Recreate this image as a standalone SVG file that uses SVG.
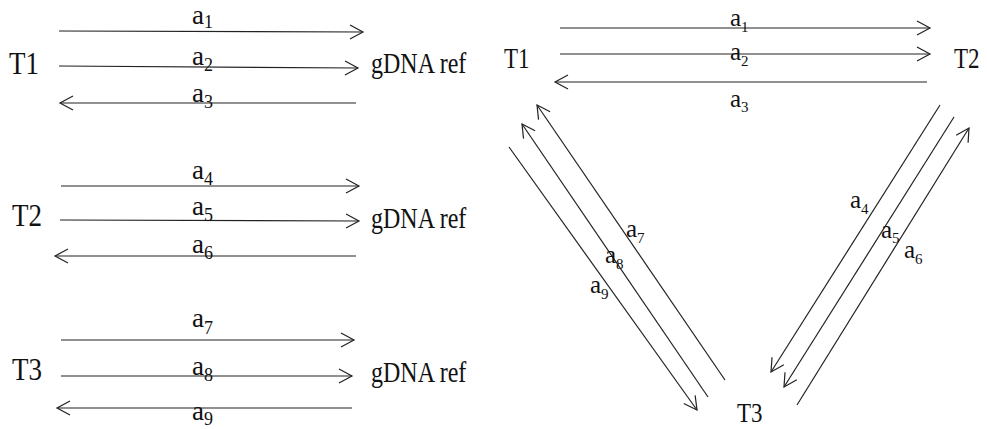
<svg xmlns="http://www.w3.org/2000/svg" width="987" height="429" viewBox="0 0 987 429">
<style>
  text { font-family: "Liberation Serif", "Times New Roman", serif; fill: #111; }
  .tl { font-size: 27px; }
  .tr { font-size: 23px; }
  .ref { font-size: 24px; }
  .al { font-size: 27px; }
  .ar { font-size: 25px; }
  .sl { font-size: 18px; }
  .sr { font-size: 15px; }
  .c line { stroke: #222; stroke-width: 1.2; fill: none; marker-end: url(#ah); }
</style>
<defs>
  <marker id="ah" markerUnits="userSpaceOnUse" markerWidth="16" markerHeight="16" refX="13" refY="7" orient="auto" overflow="visible">
    <path d="M0,0 L13,7 L0,14" fill="none" stroke="#222" stroke-width="1.2"/>
  </marker>
</defs>
<rect width="987" height="429" fill="#fff"/>

<!-- Left panel nodes -->
<g id="L-T1"><text class="tl" transform="translate(9,74) scale(1,1.2)">T1</text></g>
<g id="L-T2"><text class="tl" transform="translate(12,226) scale(1,1.2)">T2</text></g>
<g id="L-T3"><text class="tl" transform="translate(12,380) scale(1,1.2)">T3</text></g>
<g id="L-ref1"><text class="ref" transform="translate(371,73) scale(1,1.2)">gDNA ref</text></g>
<g id="L-ref2"><text class="ref" transform="translate(371,228) scale(1,1.2)">gDNA ref</text></g>
<g id="L-ref3"><text class="ref" transform="translate(371,382) scale(1,1.2)">gDNA ref</text></g>

<!-- Right panel nodes -->
<g id="R-T1"><text class="tr" transform="translate(504,68) scale(1,1.25)">T1</text></g>
<g id="R-T2"><text class="tr" transform="translate(954,68) scale(1,1.25)">T2</text></g>
<g id="R-T3"><text class="tr" transform="translate(737,422) scale(1,1.2)">T3</text></g>

<!-- Connectors -->
<g id="connectors" class="c">
  <line x1="59" y1="31" x2="363" y2="32"/>
  <line x1="59" y1="66" x2="358" y2="68"/>
  <line x1="356" y1="103" x2="60" y2="103"/>
  <line x1="61" y1="186" x2="359" y2="186"/>
  <line x1="60" y1="220" x2="359" y2="221"/>
  <line x1="356" y1="256" x2="55" y2="256"/>
  <line x1="61" y1="340" x2="354" y2="340"/>
  <line x1="61" y1="376" x2="352" y2="376"/>
  <line x1="352" y1="408" x2="57" y2="408"/>

  <line x1="560" y1="28" x2="930" y2="28"/>
  <line x1="560" y1="54" x2="930" y2="54"/>
  <line x1="927" y1="82" x2="555" y2="82"/>

  <line x1="940" y1="105" x2="771" y2="372"/>
  <line x1="954" y1="117" x2="784" y2="387"/>
  <line x1="797" y1="405" x2="969" y2="128"/>

  <line x1="725" y1="380" x2="537" y2="105"/>
  <line x1="708" y1="397" x2="522" y2="124"/>
  <line x1="509" y1="147" x2="697" y2="410"/>
</g>

<!-- Connector labels -->
<g id="labels">
  <text class="al" x="192" y="24">a<tspan class="sl" dy="4">1</tspan></text>
  <text class="al" x="192" y="65">a<tspan class="sl" dy="6">2</tspan></text>
  <text class="al" x="192" y="102">a<tspan class="sl" dy="6">3</tspan></text>
  <text class="al" x="192" y="179">a<tspan class="sl" dy="6">4</tspan></text>
  <text class="al" x="192" y="215">a<tspan class="sl" dy="6">5</tspan></text>
  <text class="al" x="192" y="253">a<tspan class="sl" dy="6">6</tspan></text>
  <text class="al" x="192" y="327">a<tspan class="sl" dy="7">7</tspan></text>
  <text class="al" x="192" y="375">a<tspan class="sl" dy="6">8</tspan></text>
  <text class="al" x="192" y="420">a<tspan class="sl" dy="5">9</tspan></text>

  <text class="ar" x="730" y="26">a<tspan class="sr" dy="6">1</tspan></text>
  <text class="ar" x="730" y="60">a<tspan class="sr" dy="6">2</tspan></text>
  <text class="ar" x="730" y="107">a<tspan class="sr" dy="5">3</tspan></text>

  <text class="ar" x="850" y="208">a<tspan class="sr" dy="6">4</tspan></text>
  <text class="ar" x="881" y="238">a<tspan class="sr" dy="5">5</tspan></text>
  <text class="ar" x="904" y="258">a<tspan class="sr" dy="6">6</tspan></text>

  <text class="ar" x="626" y="237">a<tspan class="sr" dy="6">7</tspan></text>
  <text class="ar" x="605" y="263">a<tspan class="sr" dy="6">8</tspan></text>
  <text class="ar" x="590" y="293">a<tspan class="sr" dy="6">9</tspan></text>
</g>
</svg>
